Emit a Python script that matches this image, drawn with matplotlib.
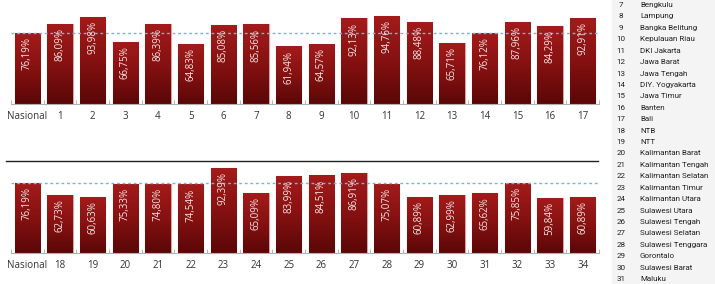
import numpy as np
import matplotlib.pyplot as plt
from matplotlib.colors import LinearSegmentedColormap
from matplotlib.lines import Line2D
from matplotlib.patches import Rectangle

labels_top = ["Nasional"] + [str(i) for i in range(1, 18)]
values_top = [76.19, 86.09, 93.98, 66.75, 86.39, 64.83, 85.08, 85.56, 61.94, 64.57,
              92.13, 94.76, 88.48, 65.71, 76.12, 87.96, 84.29, 92.91]

labels_bot = ["Nasional"] + [str(i) for i in range(18, 35)]
values_bot = [76.19, 62.73, 60.63, 75.33, 74.80, 74.54, 92.39, 65.09, 83.99, 84.51,
              86.91, 75.07, 60.89, 62.99, 65.62, 75.85, 59.84, 60.89]

nasional = 76.19

legend_nums = list(range(7, 32))
legend_names = ["Bengkulu", "Lampung", "Bangka Belitung", "Kepulauan Riau", "DKI Jakarta",
                "Jawa Barat", "Jawa Tengah", "DIY. Yogyakarta", "Jawa Timur", "Banten",
                "Bali", "NTB", "NTT", "Kalimantan Barat", "Kalimantan Tengah",
                "Kalimantan Selatan", "Kalimantan Timur", "Kalimantan Utara", "Sulawesi Utara",
                "Sulawesi Tengah", "Sulawesi Selatan", "Sulawesi Tenggara", "Gorontalo",
                "Sulawesi Barat", "Maluku"]

plt.rcParams['font.family'] = ['Open Sans', 'DejaVu Sans']

W, H = 715, 284
fig = plt.figure(figsize=(W / 100, H / 100), dpi=100)

cmap = LinearSegmentedColormap.from_list("red", ["#5a0707", "#861111", "#a41b1b"])
grad = np.linspace(0, 1, 256).reshape(-1, 1)


def draw_panel(ax, labels, values):
    x = np.arange(len(labels))
    bars = ax.bar(x, values, width=0.77, color="#8c1313", edgecolor="#d9a3a3", linewidth=0.8, zorder=2)
    for b, v in zip(bars, values):
        im = ax.imshow(grad, cmap=cmap, aspect="auto", origin="lower",
                       extent=(b.get_x(), b.get_x() + b.get_width(), 0, b.get_height()), zorder=2.5)
        im.set_clip_path(b)
        ax.text(b.get_x() + b.get_width() / 2, v - 4.5, ("%.2f" % v).replace(".", ",") + "%",
                rotation=90, ha="center", va="top", color="#f4e6e6", fontsize=7, zorder=4)
    ax.axhline(nasional, color="#74b4d4", linestyle=(0, (2, 2)), linewidth=1.0, zorder=3)
    ax.set_xlim(-0.5, len(labels) - 0.5)
    ax.set_ylim(0, 100)
    ax.set_xticks(x)
    ax.set_xticklabels(labels, fontsize=7, color="#333333")
    ax.set_xticks(np.arange(-0.5, len(labels), 1), minor=True)
    ax.tick_params(axis="x", which="major", length=0, pad=5)
    ax.tick_params(axis="x", which="minor", length=3, color="#aaaaaa", direction="in")
    ax.set_yticks([])
    for s in ["top", "left", "right"]:
        ax.spines[s].set_visible(False)
    ax.spines["bottom"].set_color("#b0b0b0")
    ax.spines["bottom"].set_linewidth(0.8)


ax1 = fig.add_axes([11 / W, 1 - 104 / H, 588 / W, 93 / H])
draw_panel(ax1, labels_top, values_top)

ax2 = fig.add_axes([11 / W, 1 - 253 / H, 588 / W, 92 / H])
draw_panel(ax2, labels_bot, values_bot)

# separator line above the lower panel
fig.add_artist(Line2D([6 / W, 598 / W], [1 - 161 / H, 1 - 161 / H], color="#222222", linewidth=1.0))

# side legend with province numbers
fig.add_artist(Rectangle((612 / W, 0), 1 - 612 / W, 1, color="#f4f4f4", zorder=0))
for i, (n, name) in enumerate(zip(legend_nums, legend_names)):
    y = 1 - (5 + i * 11.42) / H
    fig.text(621 / W, y, str(n), ha="center", va="center", fontsize=5.8,
             color="#222222", family="Roboto")
    fig.text(640 / W, y, name, ha="left", va="center", fontsize=5.8,
             color="#222222", family="Roboto")

fig.savefig("out.png", dpi=100)
